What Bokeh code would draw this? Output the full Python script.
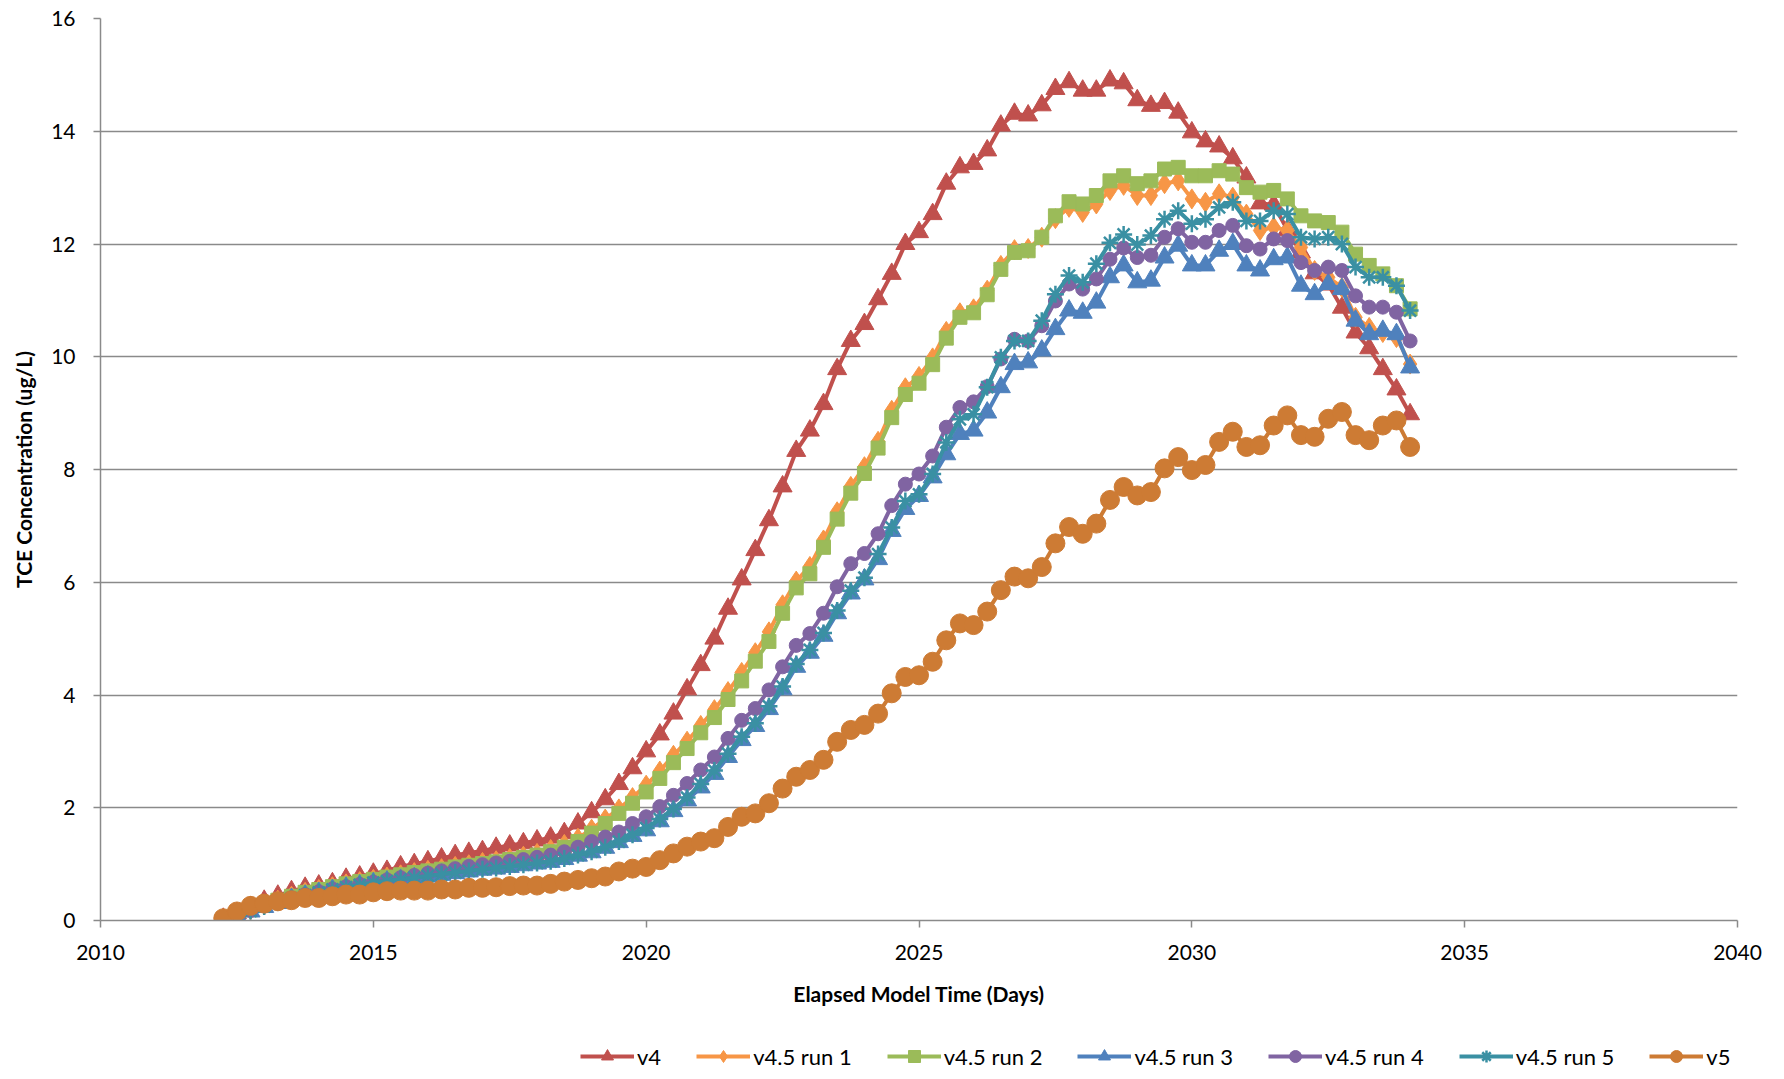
from bokeh.plotting import figure
from bokeh.layouts import column
from bokeh.models import Range1d, FixedTicker, Legend, LegendItem
from bokeh.embed import file_html
from bokeh.resources import INLINE

# time axis: quarterly samples from 2012.25 to 2034.0
T0 = 2012.25
DT = 0.25
N = 88
years = [T0 + DT * k for k in range(N)]

x_ticks = [2010, 2015, 2020, 2025, 2030, 2035, 2040]
y_ticks = [0, 2, 4, 6, 8, 10, 12, 14, 16]

v4 = [0.03, 0.13, 0.24, 0.35, 0.44, 0.52, 0.58, 0.62, 0.66, 0.74,
      0.78, 0.83, 0.88, 0.96, 1.00, 1.05, 1.10, 1.16, 1.20, 1.23,
      1.29, 1.33, 1.37, 1.42, 1.47, 1.55, 1.72, 1.92, 2.15, 2.42,
      2.70, 3.00, 3.30, 3.67, 4.10, 4.53, 5.00, 5.53, 6.05, 6.57,
      7.10, 7.70, 8.33, 8.69, 9.16, 9.78, 10.28, 10.58, 11.02, 11.47,
      12.00, 12.21, 12.53, 13.07, 13.36, 13.42, 13.66, 14.10, 14.31, 14.28,
      14.46, 14.75, 14.87, 14.72, 14.72, 14.90, 14.85, 14.55, 14.45, 14.50,
      14.33, 13.98, 13.82, 13.73, 13.52, 13.18, 12.72, 12.70, 12.25, 11.85,
      11.48, 11.28, 10.87, 10.43, 10.15, 9.78, 9.42, 8.98]

run1 = [0.02, 0.10, 0.19, 0.28, 0.36, 0.43, 0.50, 0.55, 0.60, 0.65,
        0.69, 0.73, 0.77, 0.81, 0.85, 0.89, 0.92, 0.96, 0.99, 1.03,
        1.06, 1.10, 1.14, 1.19, 1.26, 1.35, 1.46, 1.62, 1.80, 1.98,
        2.18, 2.40, 2.65, 2.93, 3.18, 3.46, 3.74, 4.06, 4.40, 4.75,
        5.12, 5.60, 6.02, 6.28, 6.75, 7.25, 7.70, 8.05, 8.50, 9.05,
        9.45, 9.65, 9.98, 10.45, 10.78, 10.85, 11.18, 11.62, 11.90, 11.92,
        12.12, 12.45, 12.65, 12.56, 12.71, 12.95, 13.04, 12.86, 12.86, 13.07,
        13.12, 12.80, 12.74, 12.89, 12.83, 12.53, 12.24, 12.30, 12.24, 11.94,
        11.53, 11.41, 11.23, 10.70, 10.52, 10.43, 10.34, 9.87]

run2 = [0.02, 0.10, 0.19, 0.28, 0.36, 0.43, 0.50, 0.55, 0.60, 0.65,
        0.69, 0.73, 0.77, 0.81, 0.85, 0.88, 0.91, 0.95, 0.98, 1.01,
        1.04, 1.08, 1.12, 1.16, 1.22, 1.30, 1.40, 1.55, 1.72, 1.90,
        2.08, 2.28, 2.52, 2.80, 3.05, 3.33, 3.60, 3.92, 4.25, 4.60,
        4.95, 5.45, 5.90, 6.15, 6.62, 7.12, 7.58, 7.93, 8.38, 8.92,
        9.33, 9.53, 9.86, 10.33, 10.70, 10.78, 11.10, 11.55, 11.85, 11.88,
        12.12, 12.50, 12.75, 12.71, 12.86, 13.12, 13.21, 13.07, 13.12, 13.33,
        13.36, 13.21, 13.21, 13.30, 13.24, 13.00, 12.92, 12.95, 12.80, 12.50,
        12.41, 12.38, 12.21, 11.82, 11.62, 11.47, 11.26, 10.85]

run3 = [0.00, 0.08, 0.16, 0.24, 0.31, 0.38, 0.44, 0.49, 0.54, 0.58,
        0.62, 0.66, 0.69, 0.72, 0.75, 0.78, 0.81, 0.84, 0.87, 0.90,
        0.92, 0.95, 0.98, 1.01, 1.04, 1.09, 1.15, 1.21, 1.29, 1.39,
        1.50, 1.60, 1.76, 1.94, 2.13, 2.36, 2.60, 2.90, 3.20, 3.45,
        3.75, 4.10, 4.50, 4.75, 5.05, 5.45, 5.80, 6.05, 6.41, 6.91,
        7.30, 7.53, 7.86, 8.27, 8.63, 8.69, 9.01, 9.46, 9.87, 9.90,
        10.11, 10.49, 10.82, 10.78, 10.96, 11.41, 11.62, 11.32, 11.35, 11.76,
        11.97, 11.62, 11.62, 11.88, 12.00, 11.62, 11.53, 11.73, 11.76, 11.26,
        11.11, 11.29, 11.20, 10.64, 10.40, 10.46, 10.40, 9.81]

run4 = [0.02, 0.10, 0.18, 0.26, 0.33, 0.40, 0.46, 0.51, 0.56, 0.60,
        0.64, 0.68, 0.72, 0.76, 0.80, 0.84, 0.88, 0.92, 0.96, 0.99,
        1.02, 1.05, 1.08, 1.12, 1.16, 1.22, 1.30, 1.40, 1.48, 1.57,
        1.72, 1.84, 2.02, 2.22, 2.43, 2.67, 2.90, 3.23, 3.55, 3.76,
        4.09, 4.50, 4.88, 5.09, 5.45, 5.92, 6.33, 6.51, 6.86, 7.36,
        7.74, 7.92, 8.24, 8.75, 9.10, 9.20, 9.47, 9.96, 10.31, 10.28,
        10.55, 10.99, 11.29, 11.20, 11.38, 11.73, 11.93, 11.76, 11.80, 12.12,
        12.27, 12.03, 12.03, 12.24, 12.33, 11.97, 11.91, 12.09, 12.06, 11.67,
        11.53, 11.59, 11.53, 11.08, 10.88, 10.88, 10.79, 10.28]

run5 = [0.02, 0.09, 0.17, 0.25, 0.32, 0.39, 0.45, 0.50, 0.55, 0.59,
        0.63, 0.67, 0.70, 0.73, 0.76, 0.79, 0.82, 0.85, 0.88, 0.91,
        0.93, 0.96, 0.99, 1.02, 1.05, 1.10, 1.16, 1.22, 1.30, 1.40,
        1.52, 1.64, 1.80, 1.98, 2.18, 2.42, 2.66, 2.96, 3.26, 3.50,
        3.80, 4.15, 4.55, 4.80, 5.10, 5.50, 5.85, 6.08, 6.50, 6.97,
        7.44, 7.56, 7.92, 8.48, 8.89, 8.98, 9.46, 9.99, 10.28, 10.28,
        10.64, 11.11, 11.44, 11.32, 11.65, 12.02, 12.17, 11.99, 12.15, 12.44,
        12.59, 12.36, 12.44, 12.65, 12.74, 12.41, 12.41, 12.59, 12.53, 12.12,
        12.09, 12.12, 12.00, 11.59, 11.41, 11.41, 11.26, 10.82]

v5 = [0.04, 0.16, 0.26, 0.30, 0.34, 0.36, 0.40, 0.40, 0.43, 0.46,
      0.46, 0.50, 0.52, 0.53, 0.53, 0.53, 0.55, 0.55, 0.58, 0.58,
      0.59, 0.61, 0.62, 0.62, 0.65, 0.69, 0.72, 0.75, 0.78, 0.87,
      0.92, 0.95, 1.07, 1.19, 1.31, 1.40, 1.46, 1.66, 1.84, 1.90,
      2.08, 2.34, 2.55, 2.67, 2.85, 3.17, 3.38, 3.47, 3.67, 4.03,
      4.32, 4.35, 4.59, 4.97, 5.27, 5.24, 5.48, 5.86, 6.10, 6.07,
      6.27, 6.69, 6.98, 6.86, 7.04, 7.46, 7.69, 7.54, 7.60, 8.02,
      8.22, 7.99, 8.08, 8.49, 8.67, 8.40, 8.43, 8.78, 8.96, 8.61,
      8.58, 8.90, 9.02, 8.61, 8.52, 8.78, 8.87, 8.40]

series = [
    ("v4", v4, "#C0504D", "triangle", 19),
    ("v4.5 run 1", run1, "#F79646", "diamond", 20),
    ("v4.5 run 2", run2, "#9BBB59", "square", 14),
    ("v4.5 run 3", run3, "#4F81BD", "triangle", 19),
    ("v4.5 run 4", run4, "#8064A2", "circle", 14),
    ("v4.5 run 5", run5, "#3A90A3", "asterisk", 17),
    ("v5", v5, "#CD7B34", "circle", 19),
]

FONT = "Lato"
GRID = "#8a8a8a"
W = 1768


def add_series(fig, xs, ys, color, marker, size):
    lr = fig.line(xs, ys, line_color=color, line_width=4)
    if marker == "asterisk":
        sr = fig.scatter(xs, ys, marker=marker, size=size, line_color=color,
                         line_width=2.5)
    else:
        sr = fig.scatter(xs, ys, marker=marker, size=size, fill_color=color,
                         line_color=color, line_width=1)
    return lr, sr


p = figure(width=W, height=1023, output_backend="svg", toolbar_location=None,
           x_range=Range1d(2010, 2040), y_range=Range1d(0, 16),
           min_border_left=100, min_border_right=31, min_border_top=18,
           min_border_bottom=103)
p.outline_line_color = None
p.background_fill_color = "white"
p.border_fill_color = "white"

p.xgrid.visible = False
p.ygrid.grid_line_color = GRID
p.ygrid.grid_line_width = 1.5
p.xaxis.ticker = FixedTicker(ticks=x_ticks)
p.yaxis.ticker = FixedTicker(ticks=y_ticks)
p.ygrid.ticker = FixedTicker(ticks=y_ticks)

for ax in (p.xaxis[0], p.yaxis[0]):
    ax.axis_line_color = GRID
    ax.axis_line_width = 1.5
    ax.major_tick_line_color = GRID
    ax.major_tick_line_width = 1.5
    ax.major_tick_in = 0
    ax.major_tick_out = 7
    ax.minor_tick_line_color = None
    ax.major_label_text_font = FONT
    ax.major_label_text_font_size = "21px"
    ax.major_label_text_color = "#000000"
    ax.axis_label_text_font = FONT
    ax.axis_label_text_font_size = "21px"
    ax.axis_label_text_font_style = "bold"
    ax.axis_label_text_color = "#000000"

p.xaxis.axis_label = "Elapsed Model Time (Days)"
p.yaxis.axis_label = "TCE Concentration (ug/L)"
p.xaxis.major_label_standoff = 17
p.xaxis.axis_label_standoff = 18
p.yaxis.major_label_standoff = 18
p.yaxis.axis_label_standoff = 12

for name, vals, color, marker, size in series:
    add_series(p, years, vals, color, marker, size)

# legend strip below the chart (its frame is aligned with the chart frame)
lf = figure(width=W, height=48, output_backend="svg", toolbar_location=None,
            x_range=Range1d(0, 100), y_range=Range1d(0, 100),
            x_axis_type=None, y_axis_type=None,
            min_border_left=0, min_border_right=0, min_border_top=0,
            min_border_bottom=0)
lf.outline_line_color = None
lf.background_fill_color = "white"
lf.border_fill_color = "white"
lf.xgrid.visible = False
lf.ygrid.visible = False

items = []
for name, vals, color, marker, size in series:
    # points placed outside the strip's ranges: only the legend glyph shows
    lr, sr = add_series(lf, [-50, -40], [-50, -40], color, marker, size)
    items.append(LegendItem(label=name, renderers=[lr, sr]))

legend = Legend(items=items, orientation="horizontal", location=(480, 0),
                glyph_width=54, glyph_height=30, label_standoff=3, spacing=35,
                padding=0, margin=0, border_line_color=None,
                background_fill_alpha=0, label_text_font=FONT,
                label_text_font_size="22px", label_text_color="#000000",
                label_height=30)
lf.add_layout(legend)

layout = column(p, lf, spacing=0)
open("out.html", "w").write(file_html(layout, INLINE))
